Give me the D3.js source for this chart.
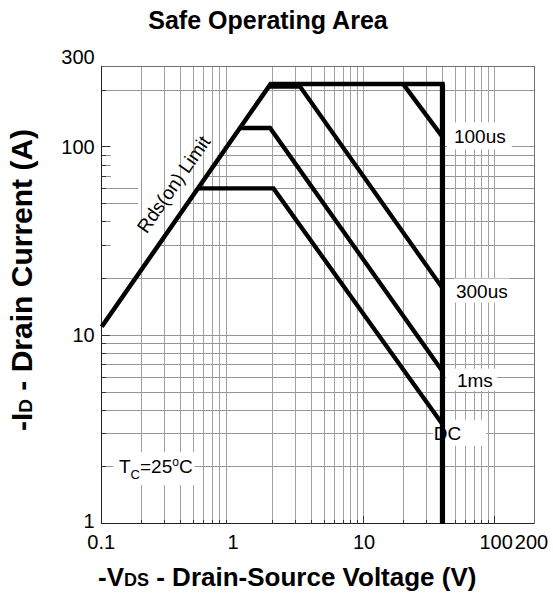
<!DOCTYPE html>
<html><head><meta charset="utf-8">
<script src="https://cdn.jsdelivr.net/npm/d3@7"></script>
<style>body{margin:0;background:#fff} svg{display:block} text{font-family:Arial,"Liberation Sans",sans-serif;fill:#000}</style>
</head><body><svg id="c" width="553" height="594"></svg>
<script>
// ---- data ----
const xTickValues = [0.1, 1, 10, 100, 200];
const yTickValues = [1, 10, 100, 300];
const xGridValues = [0.2,0.3,0.4,0.5,0.6,0.7,0.8,0.9,2,3,4,5,6,7,8,9,10,20,30,40,50,60,70,80,90,100];
const yGridValues = [2,3,4,5,6,7,8,9,10,20,30,40,50,60,70,80,90,100,200];
const xDomain = [0.1, 200];
const yDomain = [1, 300];
const yFrameTop = 268;

const rdsLimitV = [0.1, 1.95];
const rdsLimitI = [11.1, 216];
const currentLimitV = [1.95, 40];
const currentLimitI = [216, 216];
const vdsLimitV = [40, 40];
const vdsLimitI = [216, 1];
const pulse100usV = [20, 40];
const pulse100usI = [216, 113];
const pulse300usV = [1.89, 3.27, 40];
const pulse300usI = [209, 209, 17.8];
const pulse1msV = [1.14, 1.93, 40];
const pulse1msI = [126, 126, 6.45];
const dcV = [0.543, 2.05, 40];
const dcI = [60.2, 60.2, 3.37];

const curveLabels = ["100us", "300us", "1ms", "DC"];

// ---- chart ----
const svg = d3.select("#c");
const x = d3.scaleLog().domain(xDomain).range([101.7, 534]);
const y = d3.scaleLog().domain(yDomain).range([523.7, 57]);
const yTop = y(yFrameTop), yBot = y(yDomain[0]);
const xL = x(xDomain[0]), xR = x(xDomain[1]);

// horizontal grid
svg.append("g").selectAll("line").data(yGridValues).join("line")
  .attr("y1", d => y(d)).attr("y2", d => y(d)).attr("x1", xL).attr("x2", xR)
  .attr("stroke", "#969696").attr("stroke-width", 1).attr("shape-rendering","crispEdges");

// white area behind the Rds(on) label (hides horizontal grid left of the Rds line)
const rOhm = rdsLimitV[1] / rdsLimitI[1];
const iHi = 108, iLo = 28;
const mask = [
  [111, y(iHi) - 1], [x(iHi * rOhm) - 3, y(iHi) - 1], [x(iLo * rOhm) - 3, y(iLo) + 1], [111, y(iLo) + 1],
  [111, 209], [138, 209], [138, 182], [111, 182]
];
svg.append("path").attr("d", "M" + mask.map(p => p.join(",")).join("L") + "Z").attr("fill", "#fff");

// vertical grid
svg.append("g").selectAll("line").data(xGridValues).join("line")
  .attr("x1", d => x(d)).attr("x2", d => x(d)).attr("y1", yTop).attr("y2", yBot)
  .attr("stroke", "#a0a0a0").attr("stroke-width", 1).attr("shape-rendering","crispEdges");

// frame
svg.append("path").attr("d", `M${xL},${yTop}H${xR}V${yBot}`).attr("fill","none")
  .attr("stroke","#707070").attr("stroke-width",1).attr("shape-rendering","crispEdges");
svg.append("path").attr("d", `M${xL},${yTop}V${yBot}H${xR}`).attr("fill","none")
  .attr("stroke","#222").attr("stroke-width",1.3).attr("shape-rendering","crispEdges");

// inward ticks
const majors = [1,10,100];
svg.append("g").selectAll("line").data(yGridValues).join("line")
  .attr("x1", xL).attr("x2", d => xL + (majors.includes(d) ? 8 : 4))
  .attr("y1", d => y(d)).attr("y2", d => y(d)).attr("stroke","#333").attr("shape-rendering","crispEdges");
svg.append("g").selectAll("line").data(xGridValues).join("line")
  .attr("x1", d => x(d)).attr("x2", d => x(d))
  .attr("y1", yBot).attr("y2", d => yBot - (majors.includes(d) ? 8 : 4)).attr("stroke","#333").attr("shape-rendering","crispEdges");

// tick labels via axes
const fmt = d => String(d);
const ax = svg.append("g").attr("transform", `translate(0,${yBot})`)
  .call(d3.axisBottom(x).tickValues(xTickValues).tickFormat(fmt).tickSize(0).tickPadding(11));
const ay = svg.append("g").attr("transform", `translate(${xL},0)`)
  .call(d3.axisLeft(y).tickValues(yTickValues).tickFormat(fmt).tickSize(0).tickPadding(7));
[ax, ay].forEach(g => {
  g.select(".domain").remove();
  g.selectAll("text").attr("font-size", 20).attr("font-family", "Arial, 'Liberation Sans', sans-serif").attr("fill","#000");
});
ax.selectAll(".tick").filter(d => d === 200).select("text").attr("dx", -3);
ax.selectAll(".tick").filter(d => d === 100).select("text").attr("dx", 1);
ax.selectAll(".tick").filter(d => d === 0.1).select("text").attr("dx", -1);
ay.selectAll(".tick").filter(d => d === 1).select("text").attr("dy", "0.2em");

// label helper with white box
function boxedLabel(parent, tx, ty, build, pad) {
  const g = parent.append("g");
  const r = g.append("rect").attr("fill", "#fff");
  const t = g.append("text").attr("x", tx).attr("y", ty).attr("font-size", 19);
  build(t);
  const b = t.node().getBBox();
  r.attr("x", b.x - pad[3]).attr("y", b.y - pad[0]).attr("width", b.width + pad[1] + pad[3]).attr("height", b.height + pad[0] + pad[2]);
  return g;
}

const labelLayer = svg.append("g");
const ends = [
  [pulse100usV[pulse100usV.length-1], pulse100usI[pulse100usI.length-1]],
  [pulse300usV[2], pulse300usI[2]],
  [pulse1msV[2], pulse1msI[2]],
  [dcV[2], dcI[2]]
];
const offs = [[11.5, 6.5], [13.5, 9.5], [14.5, 15.5], [-8.6, 15.5]];
const pads = [[4,6,2,7],[2,2,1,2],[1,4,0,11],[3,25,2,1]];
curveLabels.forEach((lab, i) => {
  boxedLabel(labelLayer, x(ends[i][0]) + offs[i][0], y(ends[i][1]) + offs[i][1], t => t.text(lab), pads[i]);
});

// Tc label
boxedLabel(labelLayer, 119, 473, t => {
  t.append("tspan").text("T");
  t.append("tspan").attr("font-size", 13).attr("dy", 6).text("C");
  t.append("tspan").attr("dy", -6).text("=25");
  t.append("tspan").attr("font-size", 12).attr("dy", -7).text("o");
  t.append("tspan").attr("dy", 7).text("C");
}, [3,2,3,6]);

// Rds(on) label, rotated along the line
const ang = -Math.atan((y(1) - y(10)) / (x(10) - x(1))) * 180 / Math.PI;
const rg = labelLayer.append("g").attr("transform", `translate(179,188) rotate(${ang})`);
rg.append("text").attr("text-anchor","middle").attr("font-size",19).attr("x",0).attr("y",0).text("Rds(on) Limit");

// curves
const line = d3.line().x(d => x(d[0])).y(d => y(d[1]));
const zip = (a, b) => a.map((v, i) => [v, b[i]]);
const envelope = zip(rdsLimitV, rdsLimitI).concat(zip(currentLimitV, currentLimitI).slice(1), zip(vdsLimitV, vdsLimitI).slice(1));
const cg = svg.append("g").attr("fill","none").attr("stroke","#000").attr("stroke-linejoin","miter");
[zip(pulse100usV,pulse100usI), zip(pulse300usV,pulse300usI), zip(pulse1msV,pulse1msI), zip(dcV,dcI)].forEach(c => {
  cg.append("path").attr("d", line(c)).attr("stroke-width", 4.3);
});
cg.append("path").attr("d", line(envelope)).attr("stroke-width", 4.5);
cg.append("path").attr("d", line(zip(vdsLimitV, vdsLimitI))).attr("stroke-width", 5.2);

// titles
svg.append("text").attr("x", 268).attr("y", 29).attr("text-anchor","middle")
  .attr("font-size", 25).attr("font-weight","bold").text("Safe Operating Area");

const xt = svg.append("text").attr("x", 98).attr("y", 586).attr("font-size", 26).attr("font-weight","bold");
xt.append("tspan").text("-V");
xt.append("tspan").attr("font-size", 18).text("DS");
xt.append("tspan").text(" - Drain-Source Voltage (V)");

const yt = svg.append("text").attr("transform", "translate(32,280) rotate(-90)").attr("text-anchor","middle")
  .attr("font-size", 30).attr("font-weight","bold");
yt.append("tspan").text("-I");
yt.append("tspan").attr("font-size", 19).text("D");
yt.append("tspan").text(" - Drain Current (A)");
</script></body></html>
